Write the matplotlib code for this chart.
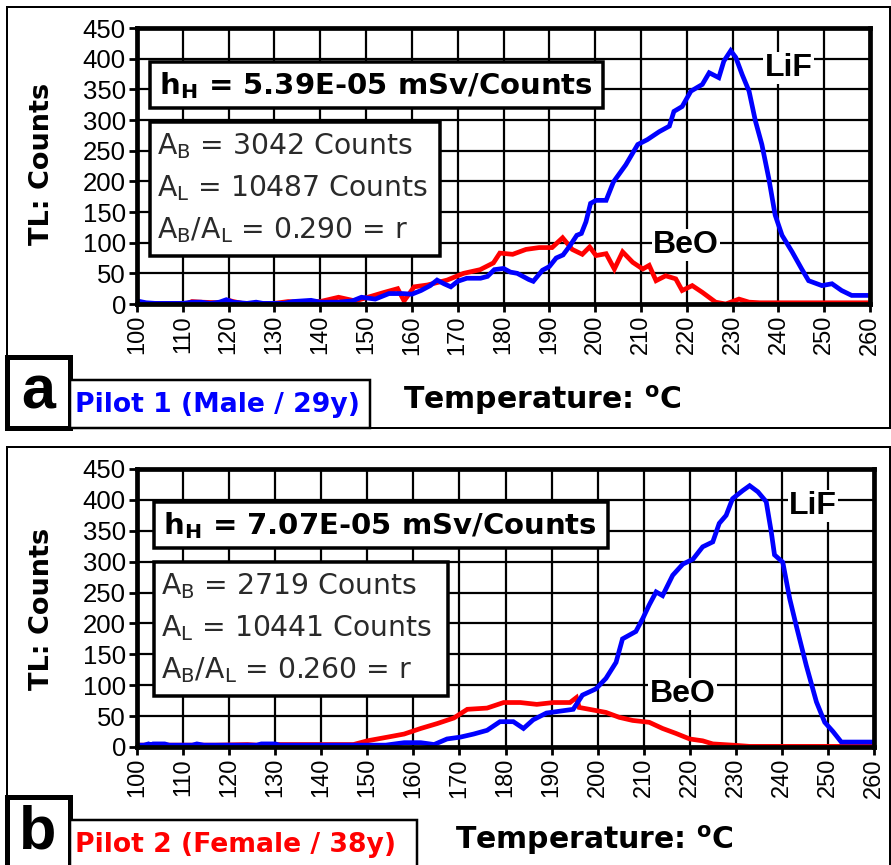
import matplotlib
matplotlib.use("Agg")
import matplotlib.pyplot as plt
from matplotlib.patches import Rectangle

plt.rcParams['font.family'] = ['DejaVu Sans']
plt.rcParams['mathtext.fontset'] = 'dejavusans'

# ---- data (temperature in C, TL counts) ----
a_lif_t = [100, 102, 104, 110, 112, 114, 116, 118, 119.5, 121, 124, 126, 127.5, 132, 134, 138,
           140, 144, 147, 149, 152, 155, 158, 160, 162, 164, 165.5, 167, 168.5, 170, 172, 175,
           176.5, 178, 180, 181.5, 183, 185.5, 186.5, 188.5, 190, 191.5, 193, 194.5, 196, 197,
           198, 199, 200.2, 202.4, 204, 206.7, 209.3, 211.4, 214, 216.2, 217.2, 219, 220.9,
           223.4, 224.9, 227, 228.1, 229.6, 230.7, 232.1, 233.6, 235, 236.4, 237.9, 239.3,
           240.8, 243, 245.1, 246.6, 249.5, 251.7, 253.8, 256, 260]
a_lif = [5, 2, 1, 1, 3, 3, 1, 3, 7, 3, 1, 3, 1, 1, 4, 6,
         3, 3, 5, 11, 8, 17, 17, 16, 22, 30, 39, 33, 28, 37, 42, 42,
         45, 56, 58, 52, 50, 40, 37, 55, 61, 75, 80, 95, 112, 115,
         134, 164, 169, 169, 199, 227, 260, 268, 281, 290, 314, 322, 347,
         358, 377, 369, 396, 413, 402, 374, 347, 298, 260, 205, 145,
         112, 85, 57, 38, 30, 33, 22, 14, 14]

a_beo_t = [100, 111, 112, 114, 118, 120, 121, 123, 130, 133, 135, 140, 144, 147.6, 150.4, 154,
           156.9, 158.3, 160.5, 163.4, 167.7, 171.3, 174.9, 177.8, 179.2, 182, 184.9, 187.8,
           190.6, 192.9, 195, 197.2, 198.8, 200.2, 202.4, 204.2, 206, 208.2, 210.4, 211.8,
           213.3, 215.4, 217.6, 219, 221.2, 223.4, 226.3, 228.5, 231.4, 233.6, 236, 240, 245, 260]
a_beo = [1, 1, 4, 3, 2, 6, 4, 1, 1, 4, 3, 4, 11, 5, 11, 19,
         25, 5, 28, 31, 39, 50, 56, 67, 83, 81, 89, 92,
         92, 108, 89, 81, 93, 79, 82, 57, 85, 68, 57, 63,
         38, 46, 41, 22, 30, 19, 3, 0, 8, 3, 2, 2, 2, 2]

b_lif_t = [100, 101.5, 102.5, 103, 103.5, 106, 107, 112, 113, 114.5, 120, 126, 127, 130, 131,
           150, 154, 158, 161.6, 164.5, 167.3, 170.2, 173.1, 176, 178.8, 181.7, 183.9, 186,
           188.9, 191.8, 194.7, 196.7, 199.6, 201.8, 204, 205.4, 208.3, 209.8, 211.2, 212.7,
           214.1, 216.3, 218.5, 220.7, 222.8, 225, 226.4, 227.9, 229.3, 231.5, 233, 234.8,
           236.6, 237.7, 238.4, 240.2, 241.7, 243.1, 245.3, 247.5, 249.3, 251.1, 252.9, 260]
b_lif = [3, 3, 5, 3, 5, 5, 3, 3, 5, 3, 3, 3, 5, 5, 3,
         3, 3, 7, 7, 4, 13, 16, 21, 27, 41, 41, 30, 44,
         55, 58, 61, 84, 94, 111, 137, 175, 187, 208, 230, 251,
         245, 278, 296, 304, 324, 332, 362, 375, 402, 415, 423, 413,
         397, 348, 311, 299, 240, 197, 132, 73, 40, 25, 8, 8]

b_beo_t = [100, 117, 124, 126, 131, 135, 147, 150, 154.4, 158, 161.6, 165.2, 168.8, 171.7, 176,
           179.6, 183.2, 186.8, 190.4, 194, 195.4, 196, 198.2, 201.8, 204.7, 207.6, 211.2,
           214.1, 217, 220, 222.8, 225, 229.3, 233, 260]
b_beo = [3, 3, 4, 3, 4, 4, 4, 10, 16, 21, 30, 38, 47, 61, 63,
         72, 72, 69, 72, 72, 80, 64, 61, 56, 48, 43, 40,
         30, 22, 13, 10, 5, 3, 1, 1]

panels = [
    dict(lif_t=a_lif_t, lif=a_lif, beo_t=a_beo_t, beo=a_beo, letter='a',
         pilot='Pilot 1 (Male / 29y)', pilot_color='#0000ff',
         hh='5.39E-05', ab='3042', al='10487', r='0.290'),
    dict(lif_t=b_lif_t, lif=b_lif, beo_t=b_beo_t, beo=b_beo, letter='b',
         pilot='Pilot 2 (Female / 38y)', pilot_color='#ff0000',
         hh='7.07E-05', ab='2719', al='10441', r='0.260'),
]

W, H = 891, 865
fig = plt.figure(figsize=(W / 100, H / 100), dpi=100)


def box(x0, y0, x1, y1, lw_px, fill=True):
    r = Rectangle((x0 / W, 1 - y1 / H), (x1 - x0) / W, (y1 - y0) / H,
                  transform=fig.transFigure, fc='white' if fill else 'none',
                  ec='black', lw=lw_px * 0.72, zorder=10)
    fig.add_artist(r)


def ftext(x, y, s, **kw):
    return fig.text(x / W, 1 - y / H, s, zorder=11, **kw)


# pixel layout of each panel:
# (panel top, axes top, axes bottom, axes right, pilot box right, info box x0,
#  hh box x1, area box x1, x label left, LiF pos, BeO pos)
layout = [(7, 28, 304, 870, 370, 150, 603, 440, 403, (0.889, 0.855), (0.749, 0.214)),
          (447, 469, 747, 874, 417, 154, 608, 448, 455, (0.917, 0.867), (0.740, 0.19))]

for p, (top, atop, abot, aright, pright, hx0, hx1, ax1, tx, lif_pos, beo_pos) in zip(panels, layout):
    ax = fig.add_axes([137 / W, 1 - abot / H, (aright - 137) / W, (abot - atop) / H])
    ax.plot(p['beo_t'], p['beo'], color='#ff0000', lw=3.4, zorder=3,
            solid_joinstyle='miter')
    ax.plot(p['lif_t'], p['lif'], color='#0000ff', lw=3.4, zorder=4,
            solid_joinstyle='miter')
    ax.set_xlim(100, 260)
    ax.set_ylim(0, 450)
    ax.set_xticks(range(100, 261, 10))
    ax.set_yticks(range(0, 451, 50))
    ax.set_xticklabels([str(v) for v in range(100, 261, 10)], rotation=90,
                       fontsize=17, family='Liberation Sans')
    ax.set_yticklabels([str(v) for v in range(0, 451, 50)], fontsize=18.5,
                       family='Liberation Sans')
    ax.tick_params(length=6, width=2, color='black', pad=2)
    for s in ax.spines.values():
        s.set_linewidth(3.4)
        s.set_zorder(5)
    ax.set_axisbelow('line')
    ax.grid(True, which='major', color='black', linewidth=1.6)

    off = top - 7
    # curve labels with white background
    ax.text(lif_pos[0], lif_pos[1], 'LiF', transform=ax.transAxes, fontsize=23,
            fontweight='bold', family='Liberation Sans', ha='center', va='center',
            zorder=6, bbox=dict(fc='white', ec='none', pad=1))
    ax.text(beo_pos[0], beo_pos[1], 'BeO', transform=ax.transAxes, fontsize=23,
            fontweight='bold', family='Liberation Sans', ha='center', va='center',
            zorder=6, bbox=dict(fc='white', ec='none', pad=1))

    # outer frame of the panel
    box(7, top, 890, top + 421, 2, fill=False)

    # h_H box
    box(hx0, 62 + off, hx1, 108 + off, 3.5)
    ftext(hx0 + 9, 86 + off, r'$\mathbf{h_H}$ = ' + p['hh'] + ' mSv/Counts',
          fontsize=21, fontweight='bold', va='center')

    # area box
    box(hx0, 122 + off, ax1, 256 + off, 3.5)
    for yy, s in [(146, r'$\mathregular{A_B}$ = ' + p['ab'] + ' Counts'),
                  (188, r'$\mathregular{A_L}$ = ' + p['al'] + ' Counts'),
                  (230, r'$\mathregular{A_B/A_L}$ = ' + p['r'] + ' = r')]:
        ftext(hx0 + 7, yy + off, s, fontsize=20.3, va='center', color='#2a2a2a')

    # y label
    ftext(42, 164 + off + (5 if p['letter'] == 'b' else 0), 'TL: Counts', fontsize=19.5,
          fontweight='bold', rotation=90, ha='center', va='center')

    # panel letter and pilot boxes
    box(7, 357 + off, 70, 428 + off, 5)
    ftext(38, 393 + off, p['letter'], fontsize=44, fontweight='bold', ha='center',
          va='center', family='Liberation Sans')
    box(70, 380 + off, pright, 428 + off, 2.5)
    ftext(75, 405 + off, p['pilot'], fontsize=19.2, fontweight='bold', va='center',
          color=p['pilot_color'])

    # x label
    ftext(tx, 400 + off, r'Temperature: $\mathregular{^o}$C', fontsize=21.5,
          fontweight='bold', va='center')

fig.savefig('out.png', dpi=100)
